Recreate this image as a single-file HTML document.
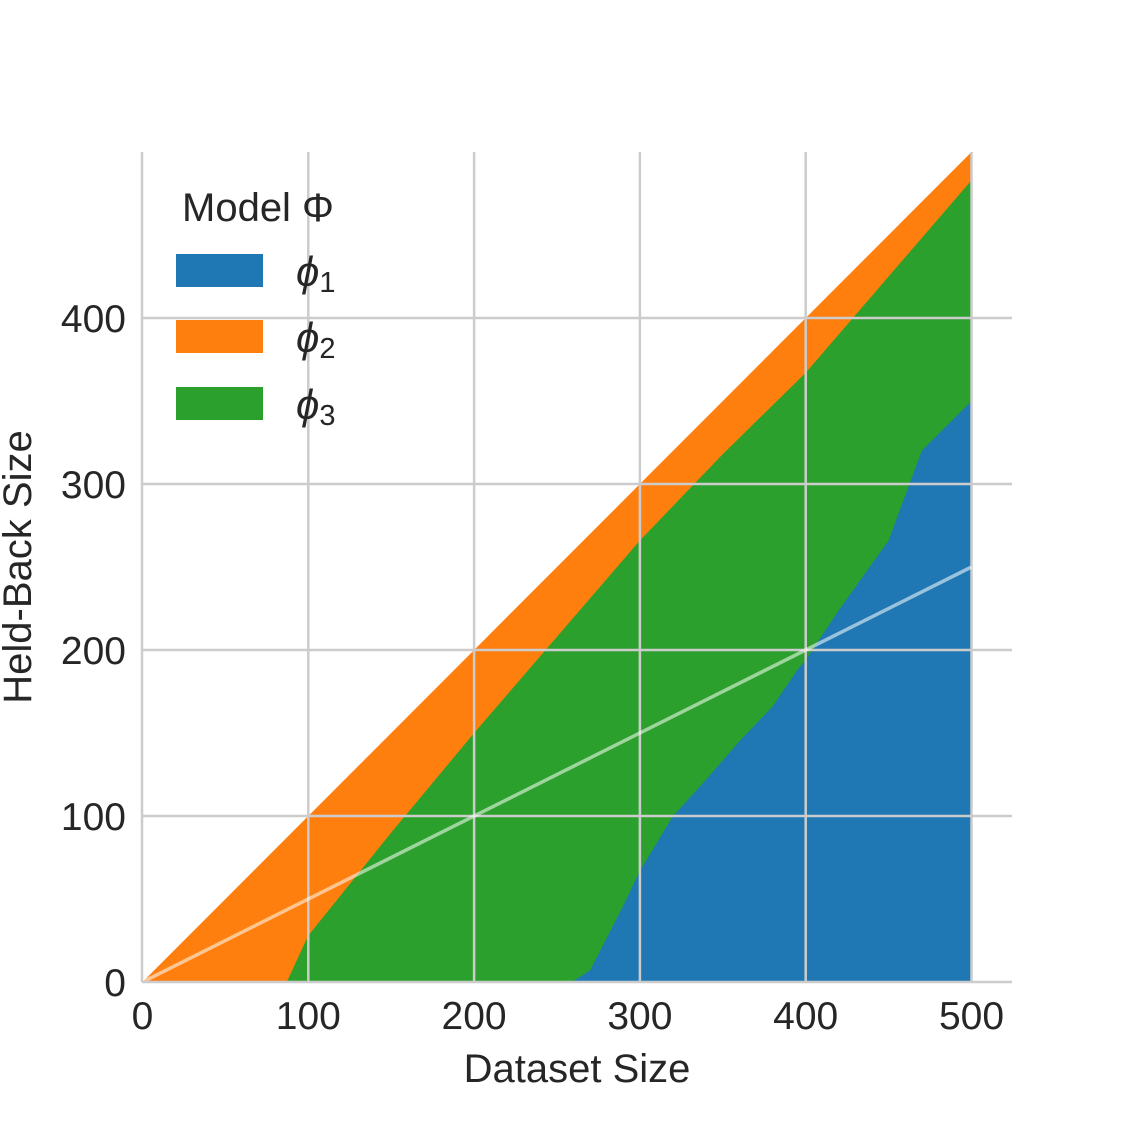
<!DOCTYPE html>
<html><head><meta charset="utf-8"><style>
body{margin:0;background:#fff}
svg text{font-family:"Liberation Sans","DejaVu Sans",sans-serif;fill:#262626}
</style></head><body>
<svg width="1125" height="1125" viewBox="0 0 1125 1125">
<g id="plot"></g>
<script>
const xTicks=[0,100,200,300,400,500];
const yTicks=[0,100,200,300,400];
const greenTopX=[87,100,150,200,250,300,350,400,450,500];
const greenTopY=[0,28,90,150,208,266,318,367,425,483];
const blueTopX=[259,270,290,300,320,340,360,380,395,400,420,450,470,490,500];
const blueTopY=[0,7,46,67,100,122,145,166,188,194,224,266,320,340,350];
const refX=[0,500];
const refY=[0,250];
const X=v=>142.5+v*1.658;
const Y=v=>982-v*1.66;
const NS='http://www.w3.org/2000/svg';
const g=document.getElementById('plot');
function mk(t,a){const e=document.createElementNS(NS,t);for(const k in a)e.setAttribute(k,a[k]);g.appendChild(e);return e;}
function pts(xs,ys){return xs.map((x,i)=>X(x)+','+Y(ys[i])).join(' ');}
let e=mk('polygon',{points:`${X(0)},${Y(0)} ${X(500)},${Y(500)} ${X(500)},${Y(0)}`,fill:'#ff7f0e'});


e=mk('polygon',{points:pts(greenTopX,greenTopY)+` ${X(500)},${Y(0)}`,fill:'#2ca02c'});


e=mk('polygon',{points:pts(blueTopX,blueTopY)+` ${X(500)},${Y(0)}`,fill:'#1f77b4'});


xTicks.forEach(t=>{if(t===0)return;const l=mk('line',{x1:X(t),x2:X(t),y1:152,y2:982,stroke:'#cccccc','stroke-width':2.5});

});
yTicks.forEach(t=>{if(t===0)return;const l=mk('line',{x1:142,x2:1012,y1:Y(t),y2:Y(t),stroke:'#cccccc','stroke-width':2.5});

});
e=mk('line',{x1:X(refX[0]),y1:Y(refY[0]),x2:X(refX[1]),y2:Y(refY[1]),stroke:'rgba(255,255,255,0.55)','stroke-width':3.5});


e=mk('line',{x1:142,x2:142,y1:152,y2:982,stroke:'#cccccc','stroke-width':2.5});


e=mk('line',{x1:142,x2:1012,y1:982,y2:982,stroke:'#cccccc','stroke-width':2.5});


xTicks.forEach(t=>{const s=mk('text',{x:X(t),y:1029,'font-size':39,'text-anchor':'middle'});s.textContent=t;

});
yTicks.forEach(t=>{const s=mk('text',{x:126,y:Y(t)+14,'font-size':39,'text-anchor':'end'});s.textContent=t;

});
</script>
<text x="577" y="1082" font-size="40" text-anchor="middle">Dataset Size</text>
<text transform="translate(31,567) rotate(-90)" font-size="40" text-anchor="middle">Held-Back Size</text>
<g>
<text x="182" y="221" font-size="40">Model Φ</text>
<rect x="176" y="254" width="87" height="33" fill="#1f77b4"/>
<text x="296" y="286" font-size="42" font-style="italic">ϕ<tspan font-size="29" font-style="normal" dy="6">1</tspan></text>
<rect x="176" y="320" width="87" height="33" fill="#ff7f0e"/>
<text x="296" y="352" font-size="42" font-style="italic">ϕ<tspan font-size="29" font-style="normal" dy="6">2</tspan></text>
<rect x="176" y="387" width="87" height="33" fill="#2ca02c"/>
<text x="296" y="419" font-size="42" font-style="italic">ϕ<tspan font-size="29" font-style="normal" dy="6">3</tspan></text>
</g>
</svg>
</body></html>
